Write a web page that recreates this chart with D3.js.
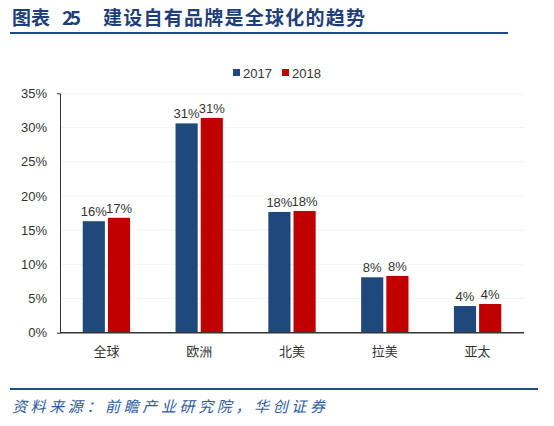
<!DOCTYPE html>
<html><head><meta charset="utf-8">
<script src="https://cdn.jsdelivr.net/npm/d3@7"></script>
<style>body{margin:0;background:#fff;}svg{display:block;}</style>
</head><body>
<svg id="c" width="554" height="426"></svg>
<script>
const categories = ["全球","欧洲","北美","拉美","亚太"];
const seriesNames = ["2017","2018"];
const values2017 = [0.163, 0.306, 0.1765, 0.081, 0.039];
const values2018 = [0.168, 0.314, 0.178, 0.083, 0.042];
const labels2017 = ["16%","31%","18%","8%","4%"];
const labels2018 = ["17%","31%","18%","8%","4%"];
const yTicks = [0,0.05,0.10,0.15,0.20,0.25,0.30,0.35];
const colors = ["#1F487C","#C00000"];

const svg = d3.select("#c");
const W = 554, H = 426;
svg.append("rect").attr("width",W).attr("height",H).attr("fill","#fff");

// title
const tf = {family:"Noto Sans CJK SC", size:19, color:"#1F3F7A"};
[["图表",12,38],["25",62,19],["建设自有品牌是全球化的趋势",103,262]].forEach(([t,x,len])=>{
  svg.append("text").attr("x",x).attr("y",25)
    .attr("font-family",tf.family).attr("font-weight","bold")
    .attr("font-size",tf.size).attr("fill",tf.color).attr("textLength",len)
    .text(t);
});
svg.append("line").attr("x1",10).attr("x2",508).attr("y1",33).attr("y2",33)
  .attr("stroke","#1F4A8A").attr("stroke-width",2);

const x0 = d3.scaleBand().domain(categories).range([60,524]).paddingInner(0.49).paddingOuter(0.245);
const x1 = d3.scaleBand().domain(seriesNames).range([0,x0.bandwidth()]).paddingInner(0.12);
const y = d3.scaleLinear().domain([0,0.35]).range([332.7,93.3]);

// grid
svg.append("g").selectAll("line").data(yTicks.slice(1)).join("line")
  .attr("x1",60).attr("x2",524).attr("y1",d=>y(d)).attr("y2",d=>y(d))
  .attr("stroke","#f4f4f4").attr("stroke-width",1);

// y axis
const yAxis = d3.axisLeft(y).tickValues(yTicks).tickFormat(d3.format(".0%")).tickSizeInner(0).tickSizeOuter(3).tickPadding(13);
const ga = svg.append("g").attr("transform","translate(60,0)").call(yAxis);
ga.select(".domain").attr("stroke","#333").attr("stroke-width",1);
ga.selectAll("text").attr("font-family","Liberation Sans, Arial").attr("font-size",13).attr("fill","#333");

const data = categories.map((c,i)=>({c, v:[values2017[i],values2018[i]], l:[labels2017[i],labels2018[i]]}));
const g = svg.append("g");
data.forEach(d=>{
  seriesNames.forEach((s,j)=>{
    const bx = x0(d.c)+x1(s);
    g.append("rect").attr("x",bx).attr("y",y(d.v[j])).attr("width",x1.bandwidth())
      .attr("height",y(0)-y(d.v[j])).attr("fill",colors[j]);
    g.append("text").attr("x",bx+x1.bandwidth()/2).attr("y",y(d.v[j])-5)
      .attr("text-anchor","middle").attr("font-family","Liberation Sans, Arial")
      .attr("font-size",13).attr("fill","#333").text(d.l[j]);
  });
});

// x axis
svg.append("line").attr("x1",60).attr("x2",524).attr("y1",y(0)).attr("y2",y(0))
  .attr("stroke","#333").attr("stroke-width",1.5);
const xAxis = d3.axisBottom(x0).tickSize(0).tickPadding(14);
const gx = svg.append("g").attr("transform",`translate(0,${y(0)})`).call(xAxis);
gx.select(".domain").remove();
gx.selectAll("text").attr("font-family","Noto Sans CJK SC").attr("font-size",13).attr("fill","#333");

// legend
const leg = svg.append("g");
const legX = [233, 282];
seriesNames.forEach((s,j)=>{
  leg.append("rect").attr("x",legX[j]).attr("y",69).attr("width",7).attr("height",7).attr("fill",colors[j]);
  leg.append("text").attr("x",legX[j]+10).attr("y",77.5).attr("font-family","Liberation Sans, Arial")
    .attr("font-size",13).attr("fill","#333").text(s);
});

// source
svg.append("line").attr("x1",10).attr("x2",538).attr("y1",389).attr("y2",389)
  .attr("stroke","#1F4A8A").attr("stroke-width",2);
svg.append("text").attr("x",12).attr("y",412)
  .attr("font-family","Noto Sans CJK SC").attr("font-style","italic")
  .attr("font-size",15).attr("fill","#2E5AA0").attr("textLength",313)
  .text("资料来源：前瞻产业研究院，华创证券");
</script>
</body></html>
